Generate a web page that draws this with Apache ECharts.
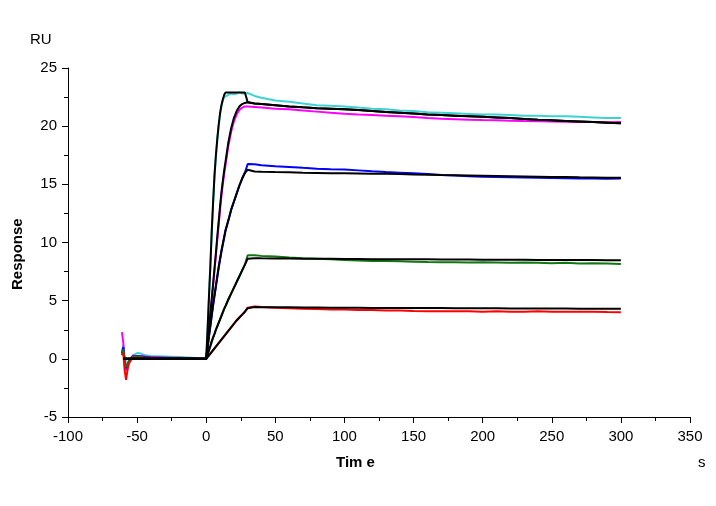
<!DOCTYPE html>
<html>
<head>
<meta charset="utf-8">
<script src="https://cdn.jsdelivr.net/npm/echarts@6/dist/echarts.min.js"></script>
<style>html,body{margin:0;padding:0;background:#fff}#c{width:716px;height:506px}</style>
</head>
<body>
<div id="c"></div>
<script>
// Time points (s)
var timeBase = [-61,-60,-59,-58,-57,-56,-55,-53,-50,-47,-44,-40,-30,-20,-10,-5];
var timeAssoc = [0,1,2,3,4,5,6,7,8,9,10,11,12,13,14,16,18,20,22,24,26,28,30];
var timeDissoc = [31,35,40,50,60,70,80,90,100,110,120,130,140,150,160,170,180,190,200,210,220,230,240,250,260,270,280,290,300];

// Measured responses (RU)
var cyanData = [0.4,1.2,0.3,-0.4,-0.65,-0.6,-0.2,0.3,0.5,0.45,0.3,0.25,0.2,0.15,0.1,0.05,
  0,2.4,5.3,8.0,10.9,13.4,15.7,17.4,18.8,20.0,21.0,21.7,22.2,22.5,22.6,22.7,22.8,22.75,22.8,22.9,22.8,22.8,22.85,
  22.75,22.6,22.45,22.2,22.1,21.95,21.8,21.75,21.7,21.6,21.5,21.45,21.35,21.3,21.2,21.15,21.1,21.05,21.0,21.0,20.95,20.9,20.9,20.85,20.85,20.8,20.75,20.7,20.7];
var magentaData = [2.3,1.4,-0.5,-1.0,-0.5,-0.2,0.0,0.3,0.2,0.25,0.2,0.15,0.1,0.1,0.05,0.0,
  0,1.1,2.4,3.7,5.0,6.3,7.6,8.9,10.2,11.5,12.8,14.0,15.0,15.9,16.7,18.3,19.5,20.4,21.0,21.4,21.6,21.7,21.7,
  21.7,21.65,21.6,21.5,21.45,21.35,21.25,21.15,21.07,21.0,20.95,20.9,20.85,20.78,20.7,20.64,20.6,20.55,20.52,20.5,20.47,20.44,20.42,20.4,20.38,20.36,20.35,20.33,20.35];
var blueData = [0.5,1.0,-0.3,-0.8,-0.6,-0.3,0.0,0.2,0.25,0.2,0.15,0.1,0.1,0.05,0.05,0.0,
  0,0.9,1.9,2.8,3.7,4.6,5.4,6.2,7.0,7.8,8.5,9.2,9.8,10.4,11.0,11.9,12.8,13.5,14.2,14.9,15.5,16.0,16.75,
  16.77,16.72,16.65,16.55,16.5,16.42,16.35,16.3,16.27,16.2,16.12,16.05,16.0,15.95,15.88,15.8,15.75,15.7,15.65,15.62,15.6,15.58,15.56,15.55,15.52,15.5,15.5,15.48,15.5];
var greenData = [0.3,0.8,-0.2,-0.7,-0.5,-0.2,0.0,0.2,0.2,0.15,0.1,0.1,0.05,0.05,0.0,0.0,
  0,0.4,0.75,1.1,1.5,1.85,2.15,2.5,2.8,3.1,3.4,3.7,4.0,4.3,4.55,5.1,5.6,6.1,6.6,7.1,7.6,8.1,8.9,
  8.95,8.9,8.85,8.8,8.72,8.65,8.6,8.55,8.5,8.45,8.42,8.4,8.38,8.35,8.32,8.3,8.3,8.28,8.3,8.28,8.25,8.28,8.25,8.22,8.25,8.2,8.22,8.2,8.15];
var redData = [0.3,0.5,-1.0,-1.8,-1.0,-0.4,-0.2,0.1,0.1,0.1,0.05,0.05,0.0,0.0,0.0,0.0,
  0,0.15,0.3,0.45,0.6,0.75,0.9,1.05,1.2,1.35,1.5,1.65,1.8,1.95,2.1,2.4,2.7,3.0,3.3,3.55,3.8,4.05,4.4,
  4.55,4.5,4.45,4.4,4.35,4.3,4.28,4.25,4.25,4.2,4.2,4.15,4.15,4.12,4.1,4.1,4.1,4.08,4.05,4.08,4.05,4.05,4.08,4.05,4.05,4.05,4.05,4.02,4.0];

// Fitted curves (RU)
var fitCyan = [null,0,0,0,0,0,0,0,0,0,0,0,0,0,0,0,
  0,2.6,5.4,8.0,11.0,13.5,15.8,17.5,18.9,20.1,21.1,21.8,22.3,22.7,22.9,22.9,22.9,22.9,22.9,22.9,22.9,22.9,22.05,
  22.0,21.95,21.9,21.8,21.7,21.62,21.55,21.5,21.45,21.38,21.3,21.22,21.15,21.08,21.0,20.95,20.9,20.85,20.8,20.75,20.7,20.62,20.55,20.5,20.45,20.4,20.35,20.3,20.25];
var fitMagenta = [null,0,0,0,0,0,0,0,0,0,0,0,0,0,0,0,
  0,1.3,2.6,3.9,5.2,6.5,7.8,9.1,10.5,11.8,13.1,14.3,15.3,16.2,17.0,18.6,19.8,20.7,21.3,21.7,21.9,22.0,22.05,
  22.0,21.95,21.9,21.8,21.7,21.62,21.55,21.5,21.45,21.38,21.3,21.22,21.15,21.08,21.0,20.95,20.9,20.85,20.8,20.75,20.7,20.62,20.55,20.5,20.45,20.4,20.35,20.3,20.25];
var fitBlue = [null,0,0,0,0,0,0,0,0,0,0,0,0,0,0,0,
  0,1.0,2.0,2.9,3.8,4.7,5.5,6.3,7.1,7.9,8.6,9.3,9.9,10.5,11.1,11.9,12.8,13.5,14.2,14.9,15.5,16.0,16.25,
  16.15,16.1,16.08,16.05,16.03,16.0,15.98,15.96,15.95,15.93,15.91,15.9,15.88,15.85,15.83,15.8,15.78,15.76,15.74,15.72,15.7,15.68,15.66,15.64,15.62,15.6,15.59,15.57,15.56];
var fitGreen = [null,0,0,0,0,0,0,0,0,0,0,0,0,0,0,0,
  0,0.4,0.75,1.1,1.5,1.85,2.15,2.5,2.8,3.1,3.4,3.7,4.0,4.3,4.55,5.1,5.6,6.1,6.6,7.1,7.6,8.1,8.6,
  8.65,8.65,8.64,8.63,8.62,8.61,8.6,8.6,8.59,8.58,8.57,8.57,8.56,8.55,8.55,8.54,8.53,8.53,8.52,8.52,8.51,8.51,8.5,8.5,8.5,8.49,8.49,8.48,8.48];
var fitRed = [null,0,0,0,0,0,0,0,0,0,0,0,0,0,0,0,
  0,0.15,0.3,0.45,0.6,0.75,0.9,1.05,1.2,1.35,1.5,1.65,1.8,1.95,2.1,2.4,2.7,3.0,3.3,3.55,3.8,4.05,4.35,
  4.45,4.45,4.44,4.43,4.43,4.42,4.41,4.4,4.4,4.39,4.38,4.38,4.37,4.37,4.36,4.36,4.35,4.35,4.34,4.34,4.33,4.33,4.32,4.32,4.32,4.31,4.31,4.3,4.3];

// Axis ticks
var xTicks = {min: -100, max: 350, interval: 50};
var yTicks = {min: -5, max: 25, interval: 5};

var times = timeBase.concat(timeAssoc, timeDissoc);
function pairs(vals) {
  var out = [];
  for (var i = 0; i < times.length; i++) out.push([times[i], vals[i]]);
  return out;
}
function line(name, vals, color, z) {
  return {name: name, type: 'line', data: pairs(vals), showSymbol: false, symbol: 'none',
    lineStyle: {color: color, width: 2}, itemStyle: {color: color}, z: z, animation: false, connectNulls: false};
}

var font = '"Liberation Sans", Arial, sans-serif';
var chart = echarts.init(document.getElementById('c'), null, {renderer: 'canvas'});
chart.setOption({
  backgroundColor: '#ffffff',
  animation: false,
  grid: {left: 68, right: 26, top: 68, bottom: 89, containLabel: false},
  xAxis: {
    type: 'value', min: xTicks.min, max: xTicks.max, interval: xTicks.interval,
    axisLine: {show: true, onZero: false, lineStyle: {color: '#000', width: 1}},
    axisTick: {show: true, inside: false, length: 6, lineStyle: {color: '#000'}},
    minorTick: {show: true, splitNumber: 2, length: 4, lineStyle: {color: '#000'}},
    splitLine: {show: false},
    axisLabel: {color: '#000', fontSize: 15, fontFamily: font, margin: 12}
  },
  yAxis: {
    type: 'value', min: yTicks.min, max: yTicks.max, interval: yTicks.interval,
    axisLine: {show: true, onZero: false, lineStyle: {color: '#000', width: 1}},
    axisTick: {show: true, inside: false, length: 6, lineStyle: {color: '#000'}},
    minorTick: {show: true, splitNumber: 2, length: 4, lineStyle: {color: '#000'}},
    splitLine: {show: false},
    axisLabel: {color: '#000', fontSize: 15, fontFamily: font, margin: 11}
  },
  graphic: [
    {type: 'text', left: 30, top: 32, style: {text: 'RU', font: '15px ' + font, fill: '#000'}},
    {type: 'text', left: 698, top: 455, style: {text: 's', font: '15px ' + font, fill: '#000'}},
    {type: 'text', left: 336, top: 455, style: {text: 'Tim e', font: 'bold 15px ' + font, fill: '#000'}},
    {type: 'text', x: 10, y: 290, rotation: Math.PI / 2, style: {text: 'Response', font: 'bold 15px ' + font, fill: '#000'}}
  ],
  series: [
    line('cyan', cyanData, '#3fd2d2', 2),
    line('magenta', magentaData, '#ff00ff', 2),
    line('blue', blueData, '#0000ff', 2),
    line('green', greenData, '#117711', 2),
    line('red', redData, '#ff0000', 2),
    line('fitCyan', fitCyan, '#000000', 3),
    line('fitMagenta', fitMagenta, '#000000', 3),
    line('fitBlue', fitBlue, '#000000', 3),
    line('fitGreen', fitGreen, '#000000', 3),
    line('fitRed', fitRed, '#000000', 3)
  ]
});
</script>
</body>
</html>
